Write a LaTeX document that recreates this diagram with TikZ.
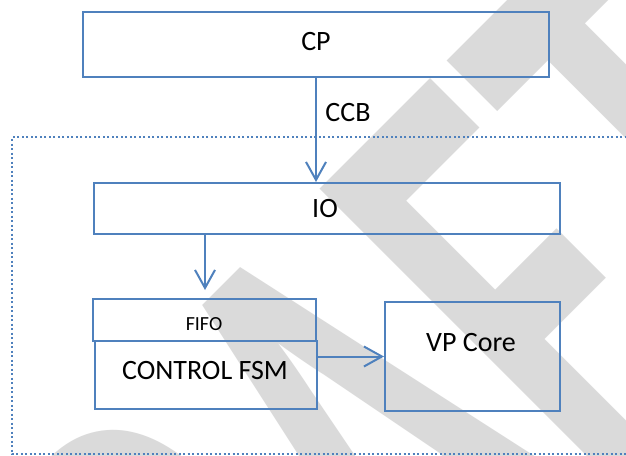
\documentclass[tikz,border=0pt]{standalone}
\usepackage{fontspec}
\setmainfont{Carlito}
\usetikzlibrary{arrows.meta}
\definecolor{boxblue}{RGB}{79,129,189}
\definecolor{wmgray}{RGB}{218,218,218}
\tikzset{
  blockbox/.style={draw=boxblue, line width=2pt, inner sep=0pt},
  lbl/.style={font=\fontsize{28}{32}\selectfont, inner sep=0pt, text=black},
  smalllbl/.style={font=\fontsize{20}{24}\selectfont, inner sep=0pt, text=black},
  arr/.style={draw=boxblue, line width=2pt, -{Straight Barb[length=18pt,width=20pt,line width=2pt]}},
  frame/.style={draw=boxblue, line width=2pt, dash pattern=on 2pt off 2.5pt}
}
\begin{document}
\begin{tikzpicture}[x=1pt,y=-1pt]
\useasboundingbox (0,0) rectangle (626,455);
\fill[white] (0,0) rectangle (626,455);
% watermark
\begin{scope}
\clip (0,0) rectangle (626,455);
\node[anchor=base west, inner sep=0pt, text=wmgray, rotate=45] (wm) at (94,1042)
  {\scalebox{1}[1.67]{\fontsize{410}{410}\selectfont\bfseries D\kern16pt R\kern-6pt A\kern-7pt F\kern11pt T}};
\end{scope}
% dotted frame
\coordinate (ftr) at (640,137);
\coordinate (fbl) at (12,454);
\coordinate (fbr) at (640,454);
\draw[frame] (ftr) -| (fbl) -- (fbr);
% boxes
\node[blockbox, minimum width=466pt, minimum height=65pt] (cp) at (316,44.5) {};
\node[lbl] (cpt) at (316,41.5) {CP};
\node[blockbox, minimum width=466pt, minimum height=51pt] (io) at (327,208.5) {};
\node[lbl] (iot) at (325,209) {IO};
\node[blockbox, minimum width=223pt, minimum height=42pt] (fifo) at (204.5,320) {};
\node[smalllbl] (fifot) at (204,324) {FIFO};
\node[blockbox, minimum width=222pt, minimum height=68pt] (fsm) at (206,375) {};
\node[lbl] (fsmt) at (205,371) {CONTROL FSM};
\node[blockbox, minimum width=175pt, minimum height=109pt] (vp) at (472.5,356.5) {};
\node[lbl] (vpt) at (471,343) {VP Core};
% connectors
\draw[arr] (cp.south -| 316,0) -- (io.north -| 316,0);
\node[lbl] (ccb) at (348,113) {CCB};
\coordinate (a1) at (205,234);
\draw[arr, shorten >=8pt] (a1) -- (a1 |- fifo.north);
\draw[arr] (fsm.east |- vp.west) -- (vp.west);
\end{tikzpicture}
\end{document}
